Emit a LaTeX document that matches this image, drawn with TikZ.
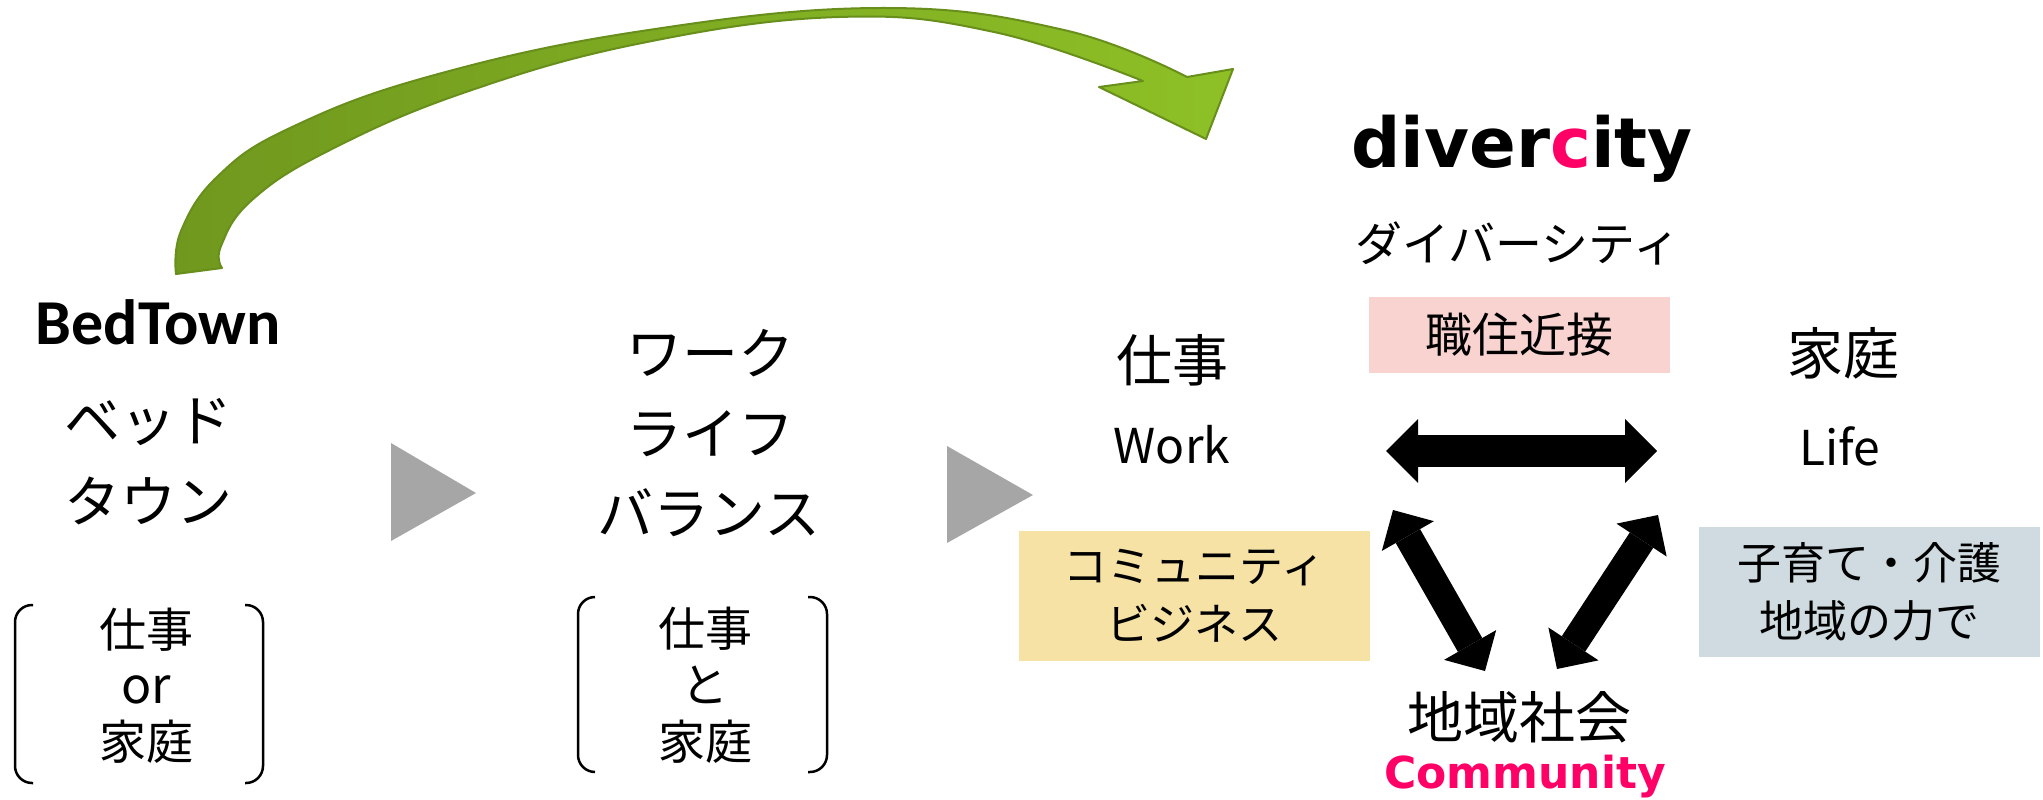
\documentclass[tikz,border=0pt]{standalone}
\usepackage{fontspec}
\setmainfont{Noto Sans CJK JP}
\newfontfamily\carfont{Carlito}
\newfontfamily\dvfont{DejaVu Sans}
\usetikzlibrary{arrows.meta}
\definecolor{pinkc}{RGB}{255,0,102}
\definecolor{pinkbox}{RGB}{248,211,207}
\definecolor{yelbox}{RGB}{245,226,164}
\definecolor{bluebox}{RGB}{207,219,224}
\definecolor{tri}{RGB}{166,166,166}
\definecolor{gdark}{RGB}{112,152,30}
\definecolor{glight}{RGB}{142,192,38}
\definecolor{gline}{RGB}{104,142,28}
\begin{document}
\begin{tikzpicture}[x=1pt,y=-1pt,
  big/.style={font=\fontsize{56}{60}\selectfont, inner sep=0},
  mid/.style={font=\fontsize{47}{50}\selectfont, inner sep=0},
  lat/.style={font=\fontsize{48}{52}\selectfont, inner sep=0, anchor=base},
  twoline/.style={align=center, inner sep=0, font=\fontsize{44}{58}\selectfont},
  bracket/.style={line width=2.5pt, rounded corners=17pt},
  playtri/.style={fill=tri},
  bigarrow/.style={line width=32pt, {Triangle[length=32pt,width=64pt,line width=0pt]}-{Triangle[length=32pt,width=64pt,line width=0pt]}},
  diagarrow/.style={line width=28pt, {Triangle[length=30pt,width=60pt,line width=0pt]}-{Triangle[length=30pt,width=60pt,line width=0pt]}}
]
\useasboundingbox (0,0) rectangle (2043,800);

% green curved arrow
\shadedraw[left color=gdark, middle color=gdark, right color=glight, draw=gline, line width=2pt, line join=round]
  plot[smooth, tension=0.7] coordinates {(176,274) (181,231) (218,176) (290,128) (431,76) (642,31) (881,8) (1064,30) (1187,77)}
  -- (1233,69) -- (1206,139) -- (1099,87)
  -- plot[smooth, tension=0.7] coordinates {(1143,81) (994,32) (839,17) (642,43) (466,92) (330,150) (252,200) (221,246) (222,268)}
  -- cycle;

% play triangles
\fill[playtri] (391,443) -- (391,541) -- (476,493) -- cycle;
\fill[playtri] (947,446) -- (947,543) -- (1033,495) -- cycle;

% brackets
\draw[bracket] (33,605) -- (15,605) -- (15,783) -- (33,783);
\draw[bracket] (245,605) -- (263,605) -- (263,783) -- (245,783);
\draw[bracket] (595,597) -- (578,597) -- (578,772) -- (595,772);
\draw[bracket] (808,597) -- (827,597) -- (827,772) -- (808,772);

% left column
\node[font=\carfont\bfseries\fontsize{64}{66}\selectfont, anchor=base, inner sep=0] (bedtown) at (158,344) {BedTown};
\node[big] (bed1) at (148,422) {ベッド};
\node[big] (bed2) at (148,501) {タウン};
\node[mid] (s1a) at (146,630) {仕事};
\node[mid, font=\fontsize{50}{52}\selectfont, anchor=base] (s1b) at (146,703) {or};
\node[mid] (s1c) at (146,742) {家庭};

% middle column
\node[big] (w1) at (710,353) {ワーク};
\node[big] (w2) at (710,434) {ライフ};
\node[big] (w3) at (709,513) {バランス};
\node[mid] (s2a) at (705,629) {仕事};
\node[mid] (s2b) at (705,685) {と};
\node[mid] (s2c) at (705,742) {家庭};

% right part
\node[font=\dvfont\bfseries\fontsize{69}{72}\selectfont, anchor=base, inner sep=0] (dc) at (1522,167) {diver\textcolor{pinkc}{c}ity};
\node[mid] (dcjp) at (1518,243) {ダイバーシティ};
\node[mid, fill=pinkbox, minimum width=301pt, minimum height=76pt] (sj) at (1519.5,335) {職住近接};
\node[big] (work) at (1172,360) {仕事};
\node[lat] (worken) at (1172,463) {Work};
\node[big] (life) at (1843,353) {家庭};
\node[lat] (lifeen) at (1840,465) {Life};
\node[twoline, fill=yelbox, minimum width=351pt, minimum height=130pt] (cb) at (1194.5,596) {コミュニティ\\ビジネス};
\node[twoline, fill=bluebox, minimum width=341pt, minimum height=130pt] (kb) at (1869.5,592) {子育て・介護\\地域の力で};
\node[big] (comm) at (1519,717) {地域社会};
\node[font=\dvfont\bfseries\fontsize{44}{48}\selectfont, text=pinkc, anchor=base, inner sep=0] (commen) at (1525,788) {Community};

% black double arrows
\coordinate (aL) at (1386,451);
\coordinate (aR) at (1657,451);
\coordinate (bT) at (1393,510);
\coordinate (bB) at (1485,671);
\coordinate (cT) at (1658,515);
\coordinate (cB) at (1557,669);
\draw[bigarrow] (aL) -- (aR);
\draw[diagarrow] (bT) -- (bB);
\draw[diagarrow] (cT) -- (cB);
\end{tikzpicture}
\end{document}
